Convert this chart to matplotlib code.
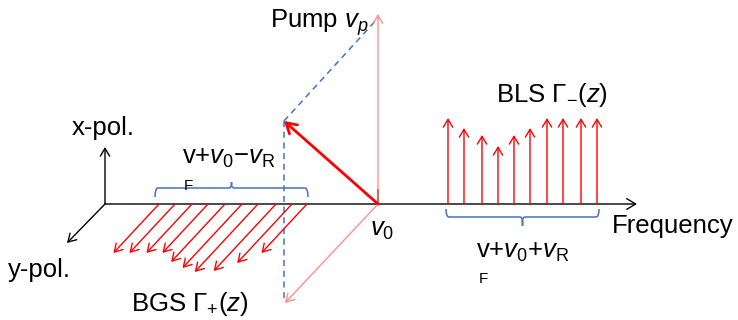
import numpy as np
import matplotlib
matplotlib.use('Agg')
import matplotlib.pyplot as plt
from matplotlib.path import Path
from matplotlib.patches import PathPatch

plt.rcParams['font.family'] = ['Liberation Sans', 'DejaVu Sans']
plt.rcParams['mathtext.fontset'] = 'custom'
plt.rcParams['mathtext.rm'] = 'Liberation Sans'
plt.rcParams['mathtext.it'] = 'Liberation Sans:italic'
plt.rcParams['mathtext.bf'] = 'Liberation Sans:bold'

# Posiciones de las líneas espectrales sobre el eje de frecuencia y su amplitud
bgs_freq = [159, 175, 192, 208, 225, 242, 258, 276, 292, 307]
bgs_amp = [49, 49, 49, 49, 58, 64, 68, 67, 59, 49]
bls_freq = [448, 464, 482, 498, 514, 530, 547, 563, 581, 597]
bls_amp = [86, 76, 69, 58, 69, 76, 86, 86, 86, 86]

# Bomba y sus componentes
nu0 = 378
pump_amp = 190
stokes_pos = (284, 121)

y0 = 204              # eje de frecuencia
origen = 105          # esquina de los ejes de polarización
pendiente = -0.93     # dirección de la polarización y (dx/dy)

ROJO = '#FF0000'
ROSA = '#FF8F8F'
AZUL = '#4472C4'

fig = plt.figure(figsize=(7.38, 3.2), dpi=100)
ax = fig.add_axes([0, 0, 1, 1])
ax.set_xlim(0, 738)
ax.set_ylim(320, 0)
ax.axis('off')


def flecha(ax, base, punta, color, lw=1.0, escala=14):
    ax.annotate('', xy=punta, xytext=base,
                arrowprops=dict(arrowstyle='->, head_length=0.4, head_width=0.24',
                                color=color, lw=lw, shrinkA=0, shrinkB=0,
                                mutation_scale=escala))


def llave(ax, x0, x1, y_ext, y_lin, y_pico, color, r=3):
    xm = (x0 + x1) / 2
    t = np.sign(y_pico - y_lin)
    verts = [(x0, y_ext), (x0, y_lin), (x0 + r, y_lin),
             (xm - r, y_lin), (xm, y_lin), (xm, y_lin + t * r),
             (xm, y_pico), (xm, y_pico), (xm, y_lin + t * r),
             (xm, y_lin), (xm + r, y_lin),
             (x1 - r, y_lin), (x1, y_lin), (x1, y_ext)]
    codes = [Path.MOVETO, Path.CURVE3, Path.CURVE3,
             Path.LINETO, Path.CURVE3, Path.CURVE3,
             Path.LINETO, Path.MOVETO, Path.LINETO,
             Path.CURVE3, Path.CURVE3,
             Path.LINETO, Path.CURVE3, Path.CURVE3]
    ax.add_patch(PathPatch(Path(verts, codes), fill=False, edgecolor=color, lw=1.1))


# Líneas guía discontinuas de la descomposición de la bomba
ax.plot([stokes_pos[0], stokes_pos[0]], [stokes_pos[1], 303], color=AZUL,
        lw=1.1, dashes=(4, 3))
ax.plot([stokes_pos[0], nu0], [stokes_pos[1], y0 - pump_amp + 4], color=AZUL,
        lw=1.1, dashes=(4, 3))

# Ejes: frecuencia, polarización x y polarización y
flecha(ax, (origen, y0), (637, y0), 'black', lw=1.0, escala=16)
flecha(ax, (origen, y0), (origen, 147), 'black', lw=1.0, escala=14)
flecha(ax, (origen, y0), (67, 243), 'black', lw=1.0, escala=14)

# Componentes de la bomba
flecha(ax, (nu0, y0), (nu0, y0 - pump_amp), ROSA, lw=1.0, escala=14)
flecha(ax, (nu0, y0), (285, 303), ROSA, lw=1.0, escala=14)
flecha(ax, (nu0, y0), stokes_pos, ROJO, lw=2.0, escala=18)
ax.plot([nu0, nu0], [190, y0], color='#6B1010', lw=1.5)

# Espectro BGS (polarización y)
for f, a in zip(bgs_freq, bgs_amp):
    flecha(ax, (f, y0), (f + pendiente * a, y0 + a), ROJO, lw=1.0, escala=14)

# Espectro BLS (polarización x)
for f, a in zip(bls_freq, bls_amp):
    flecha(ax, (f, y0), (f, y0 - a), ROJO, lw=1.0, escala=14)

# Llaves
llave(ax, 155, 308, 197, 188, 182, AZUL)
llave(ax, 446, 599, 209, 217, 226, AZUL)

# Textos
fs = 18.5
ax.text(72, 135, 'x-pol.', fontsize=fs, va='baseline')
ax.text(8, 277, 'y-pol.', fontsize=fs, va='baseline')
ax.text(612, 233, 'Frequency', fontsize=fs, va='baseline')
ax.text(369, 28, 'Pump $v_p$', fontsize=fs, va='baseline', ha='right')
ax.text(370, 236, '$v_0$', fontsize=fs, va='baseline')
ax.text(182, 164, 'v+$v_0$\u2212$v_\\mathrm{R}$', fontsize=fs, va='baseline')
ax.text(184, 190, 'F', fontsize=11, va='baseline')
ax.text(476, 258, 'v+$v_0$+$v_\\mathrm{R}$', fontsize=fs, va='baseline')
ax.text(479, 283, 'F', fontsize=11, va='baseline')
ax.text(131, 311, r'BGS $\mathrm{\Gamma}_{+}(z)$', fontsize=fs, va='baseline')
ax.text(496, 102, r'BLS $\mathrm{\Gamma}_{-}(z)$', fontsize=fs, va='baseline')

fig.savefig('out.png', dpi=100)
